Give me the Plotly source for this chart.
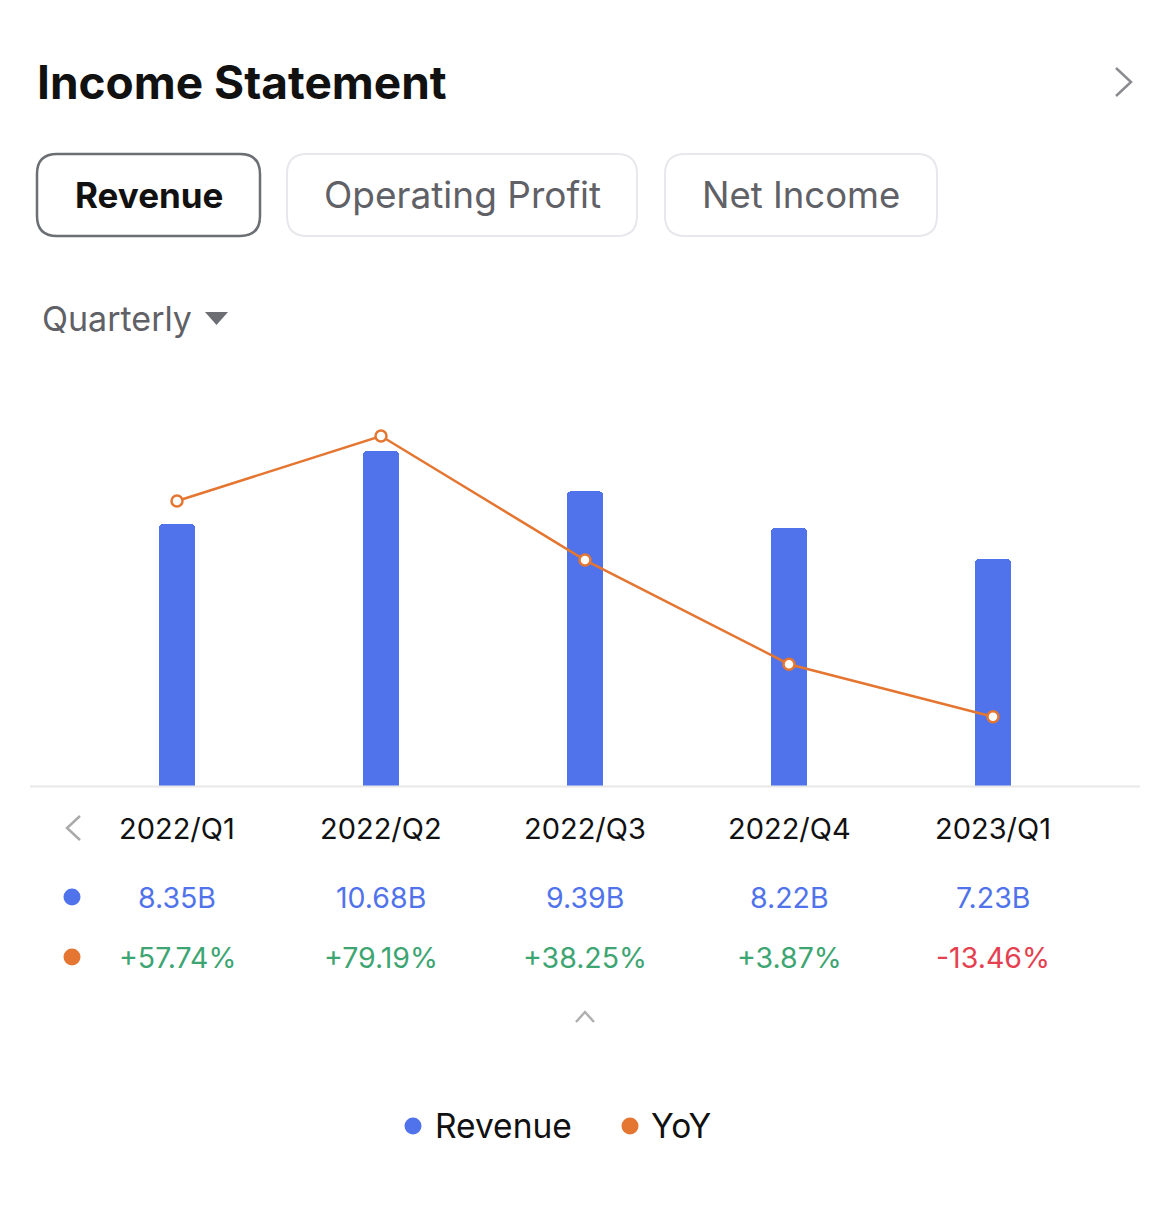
import plotly.graph_objects as go

W, H = 1170, 1206

# ---- data ----
quarters = ["2022/Q1", "2022/Q2", "2022/Q3", "2022/Q4", "2023/Q1"]
revenue_b = [8.35, 10.68, 9.39, 8.22, 7.23]
yoy_pct = [57.74, 79.19, 38.25, 3.87, -13.46]
revenue_labels = ["8.35B", "10.68B", "9.39B", "8.22B", "7.23B"]
yoy_labels = ["+57.74%", "+79.19%", "+38.25%", "+3.87%", "-13.46%"]
tabs = ["Revenue", "Operating Profit", "Net Income"]
legend_names = ["Revenue", "YoY"]

FONT = "Inter"
BLUE = "#5073EC"
ORANGE = "#E47631"
GREEN = "#3DA572"
RED = "#E5404F"
DARK = "#111111"
GREY = "#5F6166"


def px(x):
    return x / W


def py(y):
    return 1 - y / H


def rrect(x0, y0, x1, y1, r):
    X0, X1 = px(x0), px(x1)
    Y0, Y1 = py(y0), py(y1)  # Y0 top, Y1 bottom
    rx, ry = r / W, r / H
    return (f"M{X0+rx},{Y0} L{X1-rx},{Y0} Q{X1},{Y0} {X1},{Y0-ry} "
            f"L{X1},{Y1+ry} Q{X1},{Y1} {X1-rx},{Y1} L{X0+rx},{Y1} "
            f"Q{X0},{Y1} {X0},{Y1+ry} L{X0},{Y0-ry} Q{X0},{Y0} {X0+rx},{Y0} Z")


def polyline(pts, close=False):
    s = "M" + " L".join(f"{px(a)},{py(b)}" for a, b in pts)
    return s + (" Z" if close else "")


fig = go.Figure()
fig.add_trace(go.Bar(
    x=quarters, y=revenue_b, width=0.1765,
    marker=dict(color=BLUE, cornerradius=4, line=dict(width=0)),
    name=legend_names[0], showlegend=False, hoverinfo="skip",
))
fig.add_trace(go.Scatter(
    x=quarters, y=yoy_pct, yaxis="y2", mode="lines+markers",
    line=dict(color=ORANGE, width=2.5),
    marker=dict(size=11, color="white", line=dict(color=ORANGE, width=2.5)),
    name=legend_names[1], showlegend=False, hoverinfo="skip",
))

shapes = []
annotations = []

# title
annotations.append(dict(x=px(35), y=py(82), xref="paper", yref="paper", text="<b>Income Statement</b>",
                        showarrow=False, xanchor="left", yanchor="middle",
                        font=dict(family=FONT, size=46, color=DARK)))
# top right chevron
shapes.append(dict(type="path", xref="paper", yref="paper",
                   path=polyline([(1116, 68), (1131, 82), (1116, 96)]),
                   line=dict(color="#8A8C90", width=2.5)))

# tabs
tab_boxes = [(37, 154, 260, 236), (287, 154, 637, 236), (665, 154, 937, 236)]
tab_sizes = [35, 37, 36.5]
for i, (name, (x0, y0, x1, y1)) in enumerate(zip(tabs, tab_boxes)):
    active = i == 0
    shapes.append(dict(type="path", xref="paper", yref="paper", path=rrect(x0, y0, x1, y1, 20),
                       line=dict(color="#6B6E73" if active else "#E7E8EC", width=2.5 if active else 2),
                       fillcolor="white"))
    annotations.append(dict(x=px((x0 + x1) / 2), y=py((y0 + y1) / 2), xref="paper", yref="paper",
                            text=f"<b>{name}</b>" if active else name, showarrow=False,
                            xanchor="center", yanchor="middle",
                            font=dict(family=FONT, size=tab_sizes[i],
                                      color=DARK if active else GREY)))

# Quarterly dropdown
annotations.append(dict(x=px(40), y=py(318), xref="paper", yref="paper", text="Quarterly",
                        showarrow=False, xanchor="left", yanchor="middle",
                        font=dict(family=FONT, size=34, color=GREY)))
shapes.append(dict(type="path", xref="paper", yref="paper",
                   path=polyline([(205, 312), (228, 312), (216.5, 325)], close=True),
                   fillcolor="#6B6E73", line=dict(width=0)))

# baseline
shapes.append(dict(type="line", xref="paper", yref="paper", x0=px(30), x1=px(1140), y0=py(786.5), y1=py(786.5),
                   line=dict(color="#E8E8E8", width=2)))

# table rows
shapes.append(dict(type="path", xref="paper", yref="paper",
                   path=polyline([(80, 816), (67, 828), (80, 840)]),
                   line=dict(color="#AAAAAA", width=2.5)))
for q, rl, yl, v in zip(quarters, revenue_labels, yoy_labels, yoy_pct):
    annotations.append(dict(x=q, y=py(828), xref="x", yref="paper", text=q, showarrow=False,
                            xanchor="center", yanchor="middle",
                            font=dict(family=FONT, size=29, color=DARK)))
    annotations.append(dict(x=q, y=py(897), xref="x", yref="paper", text=rl, showarrow=False,
                            xanchor="center", yanchor="middle",
                            font=dict(family=FONT, size=28.5, color=BLUE)))
    annotations.append(dict(x=q, y=py(957), xref="x", yref="paper", text=yl, showarrow=False,
                            xanchor="center", yanchor="middle",
                            font=dict(family=FONT, size=28.5, color=GREEN if v >= 0 else RED)))
for yy, col in [(897, BLUE), (957, ORANGE)]:
    shapes.append(dict(type="circle", xref="paper", yref="paper",
                       x0=px(63.5), x1=px(80.5), y0=py(yy - 8.5), y1=py(yy + 8.5),
                       fillcolor=col, line=dict(width=0)))

# up chevron
shapes.append(dict(type="path", xref="paper", yref="paper",
                   path=polyline([(576, 1022), (585, 1012), (594, 1022)]),
                   line=dict(color="#B0B0B0", width=2.5)))

# custom legend
for (cx, tx, name, col) in [(413, 433, legend_names[0], BLUE), (630, 649, legend_names[1], ORANGE)]:
    shapes.append(dict(type="circle", xref="paper", yref="paper",
                       x0=px(cx - 8.5), x1=px(cx + 8.5), y0=py(1126 - 8.5), y1=py(1126 + 8.5),
                       fillcolor=col, line=dict(width=0)))
    annotations.append(dict(x=px(tx), y=py(1126), xref="paper", yref="paper", text=name,
                            showarrow=False, xanchor="left", yanchor="middle",
                            font=dict(family=FONT, size=33.5, color=DARK)))

fig.update_layout(
    width=W, height=H, autosize=False,
    margin=dict(l=0, r=0, t=0, b=0),
    paper_bgcolor="white", plot_bgcolor="white",
    font=dict(family=FONT),
    showlegend=False,
    bargap=0,
    xaxis=dict(domain=[px(30), px(1140)], range=[-0.7206, 4.7206], type="category",
               showgrid=False, zeroline=False, showline=False, showticklabels=False, ticks="",
               fixedrange=True),
    yaxis=dict(domain=[py(786), py(380)], range=[0, 12.94], showgrid=False, zeroline=False,
               showline=False, showticklabels=False, ticks="", fixedrange=True),
    yaxis2=dict(overlaying="y", range=[-36.32, 97.67], showgrid=False, zeroline=False,
                showline=False, showticklabels=False, ticks="", fixedrange=True),
    shapes=shapes,
    annotations=annotations,
)

fig.write_html("out.html", config={"displayModeBar": False, "staticPlot": True},
               post_script="document.body.style.margin='0';document.body.style.overflow='hidden';")
